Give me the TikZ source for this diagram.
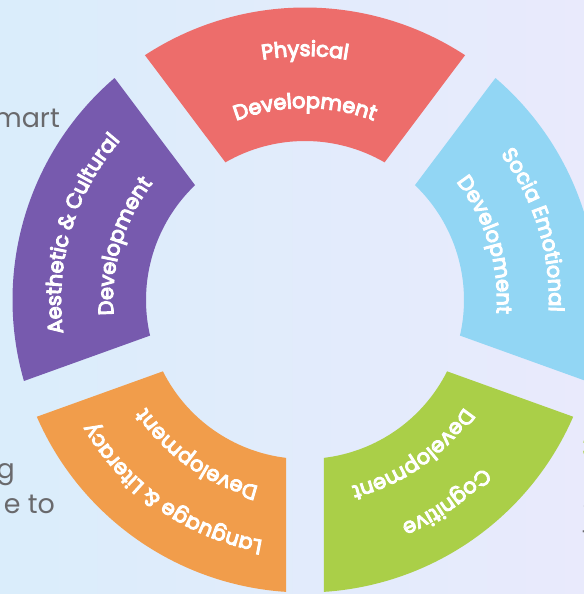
\documentclass[tikz,border=0pt]{standalone}
\usepackage{fontspec}
\setmainfont{Poppins}
\newfontfamily\lblfam{Poppins}[FakeBold=5]
\usetikzlibrary{decorations.text}
\definecolor{bgL}{RGB}{218,237,251}
\definecolor{bgR}{RGB}{233,234,252}
\definecolor{phys}{RGB}{237,109,107}
\definecolor{socia}{RGB}{146,214,244}
\definecolor{cogn}{RGB}{170,207,72}
\definecolor{lang}{RGB}{241,157,75}
\definecolor{aest}{RGB}{119,90,174}
\definecolor{graytxt}{RGB}{105,105,108}
\newcommand\lblfont{\fontsize{21}{21}\selectfont\lblfam}
% ring segment between gap angles #1 < #2
\newcommand\ringseg[3]{%
  \fill[#3] ({#1+6.863}:159) -- ({#1+3.724}:292.5)
    arc[start angle={#1+3.724}, end angle={#2-3.724}, radius=292.5]
    -- ({#2-6.863}:159)
    arc[start angle={#2-6.863}, end angle={#1+6.863}, radius=159] -- cycle;}
% curved label: start angle, end angle, radius, text
\newcommand\arclabel[4]{%
  \path[decorate,decoration={text along path,text align=center,text color=white,
    text={|\lblfont|#4}}] ({#1}:#3) arc[start angle=#1,end angle=#2,radius=#3];}
\tikzset{side/.style={text=graytxt,font=\fontsize{27}{27}\selectfont,inner sep=0pt}}
\begin{document}
\begin{tikzpicture}[x=1bp,y=1bp]
\useasboundingbox (-305,-294) rectangle (279,300);
\clip (-305,-294) rectangle (279,300);
\shade[left color=bgL,right color=bgR] (-305,-294) rectangle (279,300);
% side text fragments
\node[side,anchor=base east] (t1) at (-245,172) {mart};
\node[side,anchor=base east] (t2) at (-290,-178) {g};
\node[side,anchor=base east] (t3) at (-250,-213) {e to};
\node[side,anchor=base west,text=cogn,font=\fontsize{27}{27}\selectfont\bfseries] (r1) at (277,-157) {3};
\node[side,anchor=base west] (r2) at (277.5,-210) {s};
\node[side,anchor=base west] (r3) at (277,-245) {t};
\node[side,anchor=base west] (r4) at (277,-294) {l};
% ring
\ringseg{53.1}{126.9}{phys}
\ringseg{126.9}{199.8}{aest}
\ringseg{199.8}{270}{lang}
\ringseg{270}{340.2}{cogn}
\ringseg{340.2}{413.1}{socia}
% labels
\arclabel{124}{56}{244}{Physical}
\arclabel{124}{56}{192}{Development}
\arclabel{197}{130}{244}{Aesthetic {\&} Cultural}
\arclabel{197}{130}{192}{Development}
\arclabel{268}{202}{244}{Language {\&} Literacy}
\arclabel{268}{202}{192}{Development}
\arclabel{338}{272}{244}{Cognitive}
\arclabel{338}{272}{192}{Development}
\arclabel{411}{343}{244}{Socia Emotional}
\arclabel{411}{343}{192}{Development}
\end{tikzpicture}
\end{document}
